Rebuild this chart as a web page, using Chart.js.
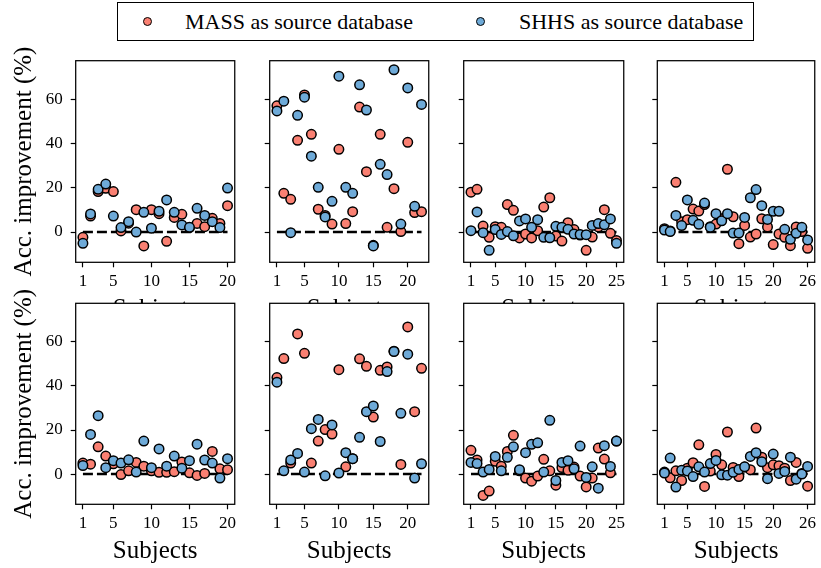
<!DOCTYPE html>
<html><head><meta charset="utf-8">
<script src="https://cdn.jsdelivr.net/npm/chart.js@4.4.0/dist/chart.umd.min.js"></script>
<style>
html,body{margin:0;padding:0;background:#fff;width:821px;height:568px;overflow:hidden;position:relative;}
canvas{position:absolute;}
#legend{position:absolute;left:117px;top:2px;width:635px;height:37px;border:1.3px solid #000;background:#fff;font-family:'Liberation Serif',serif;font-size:22px;color:#000;}
#legend .mk{position:absolute;width:7px;height:7px;border:1px solid #000;border-radius:50%;top:14px;}
#legend .tx{position:absolute;top:0;line-height:37px;white-space:nowrap;}
</style></head>
<body>
<div id="wrap"></div>
<div id="legend">
  <span class="mk" style="left:25px;background:#FA8072"></span><span class="tx" style="left:67px">MASS as source database</span>
  <span class="mk" style="left:358px;background:#6EAAD8"></span><span class="tx" style="left:401px">SHHS as source database</span>
</div>
<script>
// ---- data ----
const seriesNames = ['MASS as source database', 'SHHS as source database'];
const yTickValues = [0, 20, 40, 60];
const xTicksA = [1, 5, 10, 15, 20];
const xTicksB = [1, 5, 10, 15, 20];
const xTicksC = [1, 5, 10, 15, 20, 25];
const xTicksD = [1, 5, 10, 15, 20, 26];
const xTitle = 'Subjects';
const yTitle = 'Acc. improvement (%)';

const massP1 = [-2.4, 7.2, 18.3, 19.8, 18.3, 0.5, 4.0, 10.1, -6.3, 10.1, 8.3, -4.2, 6.6, 8.0, 2.0, 3.9, 2.4, 6.2, 3.9, 11.9];
const shhsP1 = [-5.1, 8.2, 19.3, 21.7, 7.2, 2.0, 4.7, 0.0, 8.9, 1.7, 9.4, 14.5, 8.9, 3.2, 2.1, 10.7, 7.5, 4.7, 2.0, 19.9];
const massP2 = [57.1, 17.5, 14.8, 41.5, 62.0, 44.2, 10.3, 7.5, 3.6, 37.4, 3.8, 9.2, 56.5, 27.3, -6.0, 44.2, 2.1, 19.6, 0.2, 40.6, 8.8, 9.2];
const shhsP2 = [54.8, 59.2, -0.3, 52.8, 61.0, 34.3, 20.2, 6.8, 13.9, 70.5, 20.2, 17.5, 66.6, 55.2, -6.3, 30.6, 26.0, 73.4, 3.6, 65.2, 11.6, 57.7];
const massP3 = [18.0, 19.3, 2.7, -2.4, 2.4, 2.1, 12.4, 9.8, -2.7, -0.9, -2.7, 0.6, 11.3, 15.5, -1.8, -4.1, 4.2, 1.1, -1.4, -8.3, -2.3, 2.3, 10.1, -0.6, -3.8];
const shhsP3 = [0.6, 9.1, -0.3, -8.3, 1.1, -1.1, 0.2, -1.7, 5.0, 5.9, 2.1, 5.6, -2.4, -2.6, 2.6, 2.1, 1.2, -0.9, -1.1, -1.2, 3.0, 3.8, 3.3, 5.9, -5.1];
const massP4 = [1.5, 0.5, 22.5, 4.7, 5.6, 10.4, 9.5, 12.4, 2.4, 3.6, 6.0, 28.4, 6.9, -5.3, 3.0, -2.3, -0.9, 6.0, 2.3, -5.7, -0.9, -2.4, -6.2, 2.3, 0.2, -7.4];
const shhsP4 = [0.9, 0.2, 7.5, 2.9, 14.5, 5.3, 3.5, 13.1, 2.1, 8.3, 5.1, 8.3, -0.5, -0.5, 6.6, 15.5, 19.2, 11.9, 5.7, 9.4, 9.4, 1.2, -3.3, -0.6, 2.1, -3.6];
const massP5 = [5.0, 4.5, 12.4, 8.2, 4.7, -0.2, 1.5, 5.3, 3.6, 1.5, 0.8, 0.8, 1.1, 5.5, 0.6, -0.6, 0.3, 10.3, 2.4, 2.0];
const shhsP5 = [3.9, 18.0, 26.5, 2.9, 6.1, 5.0, 6.5, 0.9, 15.0, 2.9, 11.4, 3.6, 8.2, 2.7, 6.1, 13.6, 6.4, 5.0, -1.8, 7.0];
const massP6 = [43.8, 52.4, 5.0, 63.6, 54.8, 5.0, 15.0, 20.2, 18.2, 47.4, 3.3, 7.0, 52.3, 48.9, 25.9, 47.1, 48.6, 55.8, 4.4, 66.8, 28.3, 48.0];
const shhsP6 = [41.7, 1.5, 6.4, 9.4, 0.9, 20.6, 24.8, -0.8, 22.3, 0.5, 9.7, 7.0, 16.7, 28.3, 30.9, 14.8, 46.5, 55.6, 27.6, 54.4, -1.8, 4.7];
const massP7 = [10.8, 6.4, -9.7, -7.7, 5.8, 3.6, 10.3, 17.6, 1.5, -1.8, -3.2, -0.9, 6.7, 1.5, -5.0, 3.0, 1.7, 3.2, -0.9, -5.8, -1.8, 11.8, 6.8, 0.6, 15.0];
const shhsP7 = [5.3, 4.8, 0.9, 2.1, 8.0, 1.5, 7.6, 12.4, 2.0, 9.7, 13.5, 14.2, 0.9, 24.4, -2.9, 5.3, 6.1, 2.4, 12.7, -1.5, 3.3, -6.4, 12.9, 3.5, 15.0];
const massP8 = [0.9, -1.7, 1.5, -2.9, 2.7, 5.2, 13.3, -5.6, 1.4, 8.9, 4.2, 19.1, 3.0, -1.1, 3.2, 2.0, 20.9, 7.7, 2.9, 4.2, 3.8, 2.7, -2.9, 5.3, 0.3, -5.5];
const shhsP8 = [0.5, 7.3, -5.9, 1.8, 1.4, -1.1, 3.3, 0.9, 4.8, 6.2, -0.3, -0.5, 0.8, 2.1, 3.3, 8.0, 9.7, 5.6, -2.1, 9.1, 0.3, 1.2, 7.7, -2.3, 0.0, 3.5];

const RED = '#FA8072', BLUE = '#6EAAD8';
const FONT = "'Liberation Serif', 'Times New Roman', serif";

// ---- layout (page pixels) ----
const colL = [75.7, 269.7, 463.7, 657.3];
const colR = [236.7, 431.0, 625.7, 816.7];
const rowT = [60.7, 303.3];
const rowB = [262.3, 504.3];

const framePlugin = {
  id: 'frame',
  beforeDraw(chart) {
    const {ctx, chartArea: a} = chart;
    ctx.save(); ctx.fillStyle = '#fff';
    ctx.fillRect(a.left, a.top, a.right - a.left, a.bottom - a.top);
    ctx.restore();
  },
  afterDraw(chart, args, o) {
    const {ctx, chartArea: a} = chart;
    ctx.save();
    ctx.strokeStyle = '#000'; ctx.lineWidth = 1.25;
    ctx.strokeRect(a.left, a.top, a.right - a.left, a.bottom - a.top);
    ctx.fillStyle = '#000';
    ctx.font = '25px ' + FONT;
    ctx.textAlign = 'center'; ctx.textBaseline = 'alphabetic';
    ctx.fillText(o.xTitle, (a.left + a.right) / 2, a.bottom + 54);
    if (o.yTitle) {
      ctx.translate(o.yTitleX, (a.top + a.bottom) / 2);
      ctx.rotate(-Math.PI / 2);
      ctx.fillText(o.yTitle, 0, 0);
    }
    ctx.restore();
  }
};

function makePanel(row, col, mass, shhs, xt) {
  const n = mass.length;
  const L = colL[col], R = colR[col], T = rowT[row], B = rowB[row];
  const wy = col === 0 ? 76 : 12;
  const cl = Math.floor(L - wy), ct = Math.floor(T - 22);
  const cr = Math.ceil(R + 4), cb = Math.min(568, Math.ceil(B + 64));
  const cv = document.createElement('canvas');
  cv.width = cr - cl; cv.height = cb - ct;
  cv.style.left = cl + 'px'; cv.style.top = ct + 'px';
  cv.style.width = (cr - cl) + 'px'; cv.style.height = (cb - ct) + 'px';
  document.getElementById('wrap').appendChild(cv);
  const tickFont = {family: FONT, size: 17};
  const pts = arr => arr.map((v, i) => ({x: i + 1, y: v}));
  new Chart(cv, {
    type: 'scatter',
    data: {datasets: [
      {label: seriesNames[1], data: pts(shhs), pointBackgroundColor: BLUE, pointBorderColor: '#000', pointBorderWidth: 1.5, pointRadius: 4.75, order: 1},
      {label: seriesNames[0], data: pts(mass), pointBackgroundColor: RED, pointBorderColor: '#000', pointBorderWidth: 1.5, pointRadius: 4.75, order: 2},
      {label: 'zero', data: [{x: 1, y: 0}, {x: n, y: 0}], showLine: true, borderColor: '#000', borderWidth: 2.5, borderDash: [10, 4], pointRadius: 0, order: 3}
    ]},
    options: {
      responsive: false, animation: false, devicePixelRatio: 1, events: [],
      layout: {padding: {top: T - ct, right: cr - R, left: 0, bottom: 0}},
      plugins: {
        legend: {display: false}, tooltip: {enabled: false},
        frame: {xTitle: xTitle, yTitle: col === 0 ? yTitle : null, yTitleX: 30.5 - cl}
      },
      scales: {
        x: {
          type: 'linear', min: 1 - 0.05 * (n - 1), max: n + 0.05 * (n - 1),
          afterBuildTicks: s => { s.ticks = xt.map(v => ({value: v})); },
          afterFit: s => { s.height = cb - B; },
          grid: {drawOnChartArea: false, drawTicks: true, tickLength: 5, tickColor: '#000', tickWidth: 1.2},
          border: {display: false},
          ticks: {autoSkip: false, maxRotation: 0, minRotation: 0, padding: 4.5, color: '#000', font: tickFont}
        },
        y: {
          type: 'linear', min: -13.7, max: 77.5,
          afterBuildTicks: s => { s.ticks = yTickValues.map(v => ({value: v})); },
          afterFit: s => { s.width = L - cl; },
          grid: {drawOnChartArea: false, drawTicks: true, tickLength: 5, tickColor: '#000', tickWidth: 1.2},
          border: {display: false},
          ticks: {display: col === 0, padding: 8, color: '#000', font: tickFont}
        }
      }
    },
    plugins: [framePlugin]
  });
}

const panels = [
  [0, 0, massP1, shhsP1, xTicksA], [0, 1, massP2, shhsP2, xTicksB],
  [0, 2, massP3, shhsP3, xTicksC], [0, 3, massP4, shhsP4, xTicksD],
  [1, 0, massP5, shhsP5, xTicksA], [1, 1, massP6, shhsP6, xTicksB],
  [1, 2, massP7, shhsP7, xTicksC], [1, 3, massP8, shhsP8, xTicksD]
];
panels.forEach(p => makePanel(...p));
</script>
</body></html>
